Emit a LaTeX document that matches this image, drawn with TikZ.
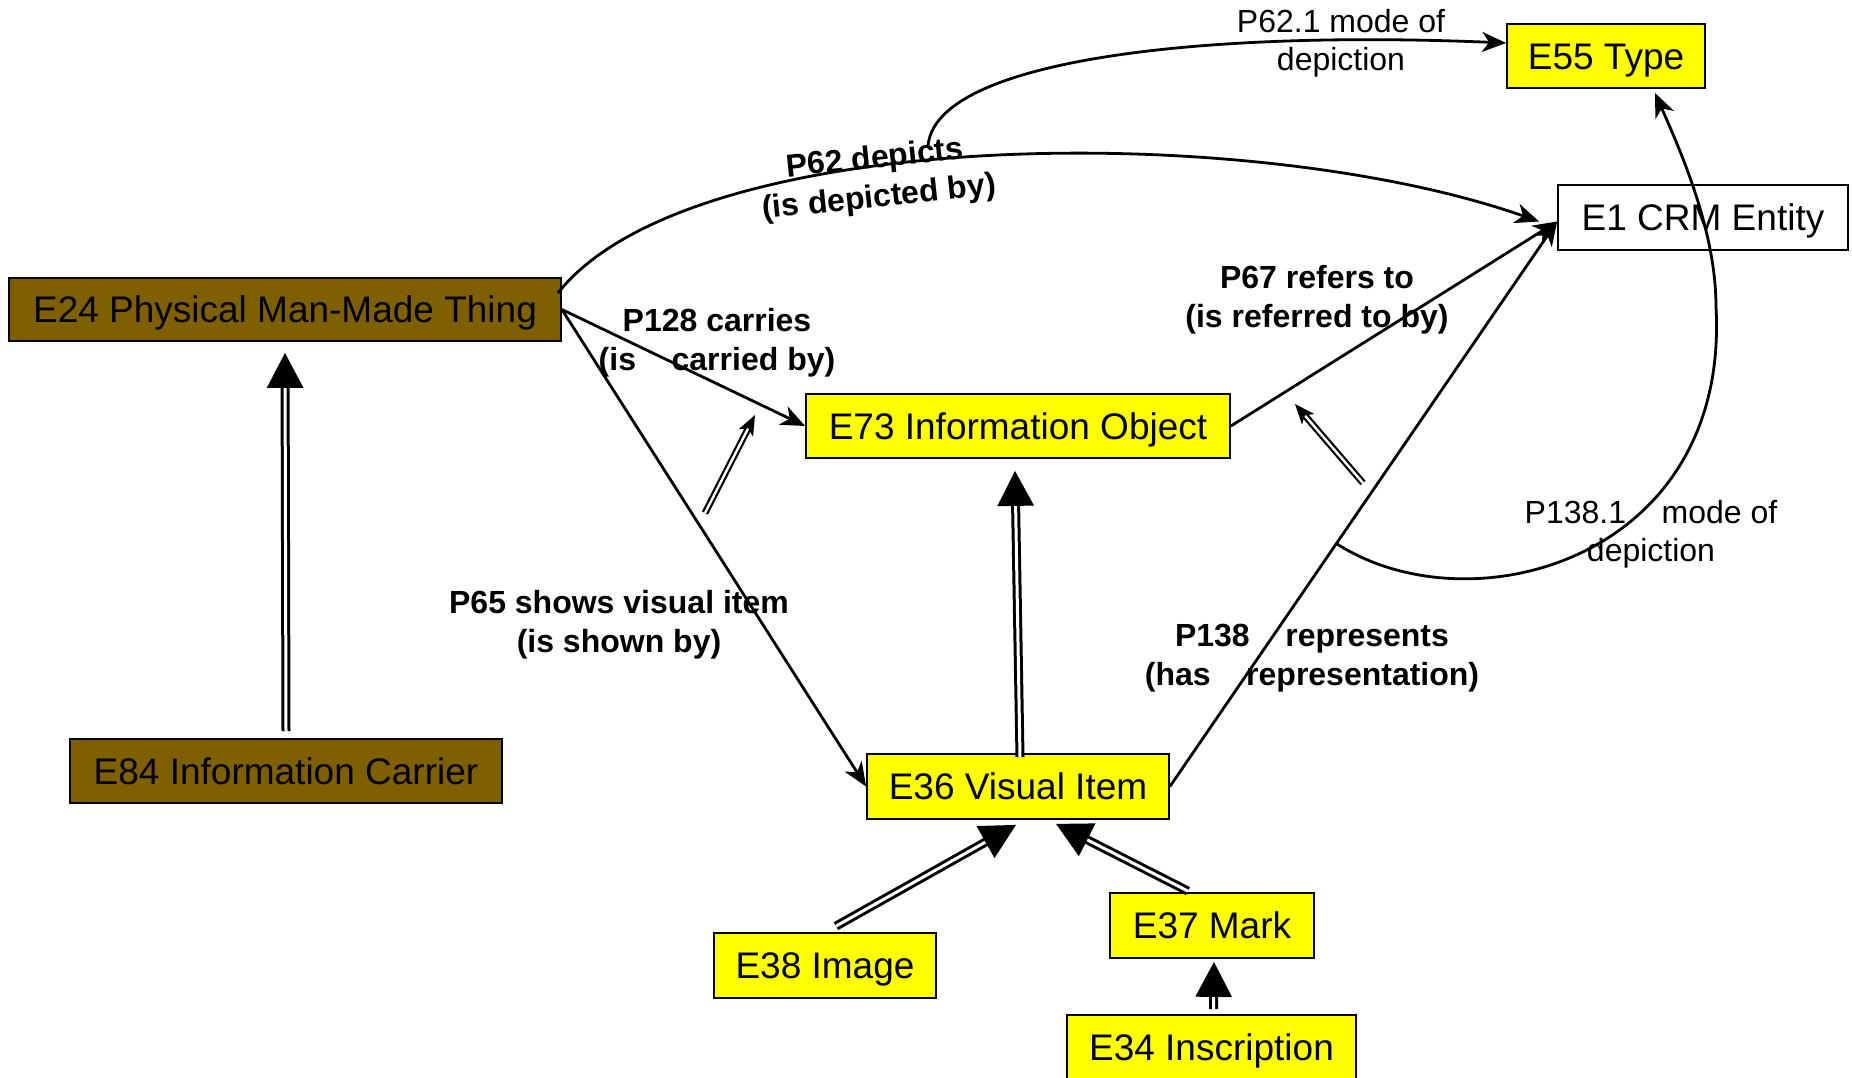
\documentclass[tikz,border=0pt]{standalone}
\usepackage{fontspec}
\setmainfont{Liberation Sans}
\usetikzlibrary{arrows.meta,calc}
\definecolor{ybox}{HTML}{FFFF00}
\definecolor{brownbox}{HTML}{7F6000}
\begin{document}
\begin{tikzpicture}[x=1pt,y=-1pt,
  ent/.style={draw=black, line width=1.8pt, minimum height=64pt, inner sep=0pt,
    font=\fontsize{37}{44}\selectfont, text height=26.5pt, text depth=0pt},
  yel/.style={ent, fill=ybox},
  brn/.style={ent, fill=brownbox},
  wht/.style={ent, fill=white},
  rel/.style={line width=2.8pt, -{Stealth[length=24pt,width=20pt,inset=7pt]}},
  lbl/.style={font=\fontsize{32}{39}\selectfont\bfseries, align=center, inner sep=0pt},
  lblr/.style={font=\fontsize{32}{38}\selectfont, align=center, inner sep=0pt},
  inh/.style={line width=3pt, double=white, double distance=3pt, -{Triangle[length=35pt,width=36pt]}},
  subp/.style={line width=2.2pt, double=white, double distance=2.4pt, -{Stealth[length=20pt,width=16pt,inset=5pt]}}
]
\useasboundingbox (0,0) rectangle (1852,1078);

% entities
\node[yel, minimum width=198pt] (E55) at (1606,56) {E55 Type};
\node[wht, minimum width=290pt, minimum height=65pt] (E1) at (1703,217.5) {E1 CRM Entity};
\node[brn, minimum width=552pt, minimum height=63pt] (E24) at (285,309.5) {E24 Physical Man-Made Thing};
\node[yel, minimum width=424pt] (E73) at (1018,426) {E73 Information Object};
\node[brn, minimum width=432pt] (E84) at (286,771) {E84 Information Carrier};
\node[yel, minimum width=302pt, minimum height=65pt] (E36) at (1018,786.5) {E36 Visual Item};
\node[yel, minimum width=222pt, minimum height=65pt] (E38) at (825,965.5) {E38 Image};
\node[yel, minimum width=204pt, minimum height=65pt] (E37) at (1212,925.5) {E37 Mark};
\node[yel, minimum width=289pt, minimum height=65pt] (E34) at (1211.5,1047.5) {E34 Inscription};

% properties
\draw[rel] ($(E24.north east)+(-4,16)$) .. controls (690,125) and (1250,120) .. ($(E1.west)+(-18,4)$);
\coordinate (p621s) at (928,146);
\draw[rel] (p621s) .. controls (935,60) and (1200,30) .. ($(E55.west)+(0,-13)$);
\draw[rel] (E24.east) -- (E73.west);
\draw[rel] (E24.east) -- (E36.west);
\draw[rel] (E73.east) -- ($(E1.west)+(0,4)$);
\draw[rel] (E36.east) -- coordinate[pos=0.43] (p1381s) ($(E1.west)+(0,4)$);
\draw[rel] (p1381s) .. controls (1470,630) and (1730,560) .. (1716,307)
  .. controls (1716,230) and (1680,150) .. ($(E55.south)+(49,4)$);

% labels
\node[lbl, rotate=6] (l62) at (877,179) {P62 depicts\\(is depicted by)};
\node[lblr] (l621) at (1341,43.5) {P62.1 mode of\\depiction};
\node[lbl] (l128) at (717,342.5) {P128 carries\\(is~~~~carried by)};
\node[lbl] (l67) at (1317,300) {P67 refers to\\(is referred to by)};
\node[lbl] (l65) at (619,624.5) {P65 shows visual item\\(is shown by)};
\node[lbl] (l138) at (1312,658.5) {P138~~~~represents\\(has~~~~representation)};
\node[lblr] (l1381) at (1651,534.5) {P138.1~~~~mode of\\depiction};

% is-a links
\draw[inh] ($(E84.north)+(0,-7)$) -- ($(E24.south)+(0,11)$);
\draw[inh] ($(E36.north)+(2,4)$) -- ($(E73.south)+(-3,12)$);
\draw[inh] ($(E38.north)+(11,-6)$) -- ($(E36.south)+(-2,5)$);
\draw[inh] ($(E37.north)+(-24,-1)$) -- ($(E36.south)+(38,4)$);
\draw[inh] ($(E34.north)+(2,-5)$) -- ($(E37.south)+(2,3)$);

% sub-property links
\coordinate (s1a) at (705,513);
\coordinate (s1b) at (755,415);
\draw[subp] (s1a) -- (s1b);
\coordinate (s2a) at (1363,483);
\coordinate (s2b) at (1295,404);
\draw[subp] (s2a) -- (s2b);
\end{tikzpicture}
\end{document}
